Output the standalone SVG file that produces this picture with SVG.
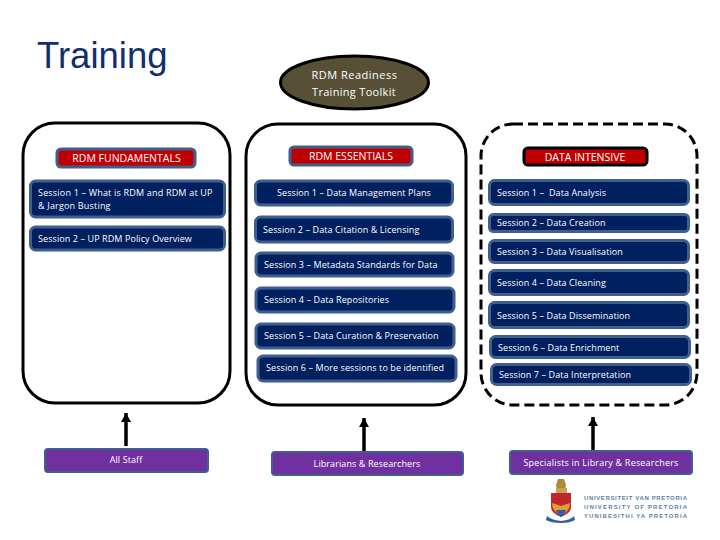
<svg xmlns="http://www.w3.org/2000/svg" width="720" height="540" viewBox="0 0 720 540">
<defs>
<marker id="ah" markerUnits="userSpaceOnUse" markerWidth="10" markerHeight="10" refX="9" refY="5" orient="auto"><path d="M0 0L9 5L0 10z" fill="#000"/></marker>
</defs>
<style>
text{font-family:"Open Sans","Noto Sans","Liberation Sans",sans-serif;font-size:9px;fill:#fff;letter-spacing:.09px}
.m{text-anchor:middle}
.s rect{fill:#002060;stroke:#3f5f8f;stroke-width:3}
.h rect{fill:#c00000;stroke:#3f5f8f;stroke-width:3}
.p rect{fill:#7030a0;stroke:#3f5f8f;stroke-width:2}
.c{fill:#fff;stroke:#000;stroke-width:3}
.hd{font-size:10.5px;letter-spacing:0}
.lg{fill:#5f7fa5;font-size:6px;font-weight:700;letter-spacing:0;font-family:"Liberation Sans",sans-serif}
</style>
<rect width="720" height="540" fill="#fff"/>
<text x="37" y="68" style="font-family:'Liberation Sans',sans-serif;font-size:36.500px;fill:#0f2f70;letter-spacing:0">Training</text>
<g id="containers">
<rect id="box-fundamentals" class="c" x="23" y="123" width="207" height="280" rx="32"/>
<rect id="box-essentials" class="c" x="246" y="124" width="220" height="281" rx="32"/>
<rect id="box-intensive" class="c" x="481" y="124" width="216" height="281" rx="32" stroke-dasharray="10 5"/>
</g>
<g id="toolkit">
<ellipse cx="354.500" cy="82.500" rx="74" ry="26.500" fill="#574f36" stroke="#000" stroke-width="3"/>
<text class="m" x="354.500" y="79" style="font-size:11px;letter-spacing:.5px">RDM Readiness</text>
<text class="m" x="354" y="96" style="font-size:11px;letter-spacing:.3px">Training Toolkit</text>
</g>
<g id="fundamentals-head" class="h"><rect x="57" y="149" width="138" height="18" rx="4"/><text class="m hd" x="126.500" y="162">RDM FUNDAMENTALS</text></g>
<g id="f1" class="s"><rect x="30.500" y="181" width="194" height="36" rx="5"/><text x="38" y="196" style="letter-spacing:.19px">Session 1 – What is RDM and RDM at UP</text><text x="38" y="209" style="letter-spacing:.19px">&amp; Jargon Busting</text></g>
<g id="f2" class="s"><rect x="30.500" y="227" width="194" height="23" rx="5"/><text x="38" y="242">Session 2 – UP RDM Policy Overview</text></g>
<g id="essentials-head" class="h"><rect x="290" y="147" width="122" height="18" rx="4"/><text class="m hd" x="351" y="160">RDM ESSENTIALS</text></g>
<g id="e1" class="s"><rect x="255.500" y="181" width="197" height="24" rx="5"/><text class="m" x="354" y="196">Session 1 – Data Management Plans</text></g>
<g id="e2" class="s"><rect x="255.500" y="217" width="197" height="25" rx="5"/><text x="263" y="233">Session 2 – Data Citation &amp; Licensing</text></g>
<g id="e3" class="s"><rect x="256" y="253" width="197" height="23" rx="5"/><text x="264" y="268">Session 3 – Metadata Standards for Data</text></g>
<g id="e4" class="s"><rect x="256" y="288" width="198" height="24" rx="5"/><text x="264" y="303">Session 4 – Data Repositories</text></g>
<g id="e5" class="s"><rect x="256" y="324" width="198" height="24" rx="5"/><text x="264" y="339">Session 5 – Data Curation &amp; Preservation</text></g>
<g id="e6" class="s"><rect x="258" y="356" width="198" height="25" rx="5"/><text x="266" y="371">Session 6 – More sessions to be identified</text></g>
<g id="intensive-head" class="h"><rect x="524" y="148" width="123" height="17" rx="4" style="stroke:#000"/><text class="m hd" x="585" y="161">DATA INTENSIVE</text></g>
<g id="d1" class="s"><rect x="489.500" y="180.500" width="199" height="24" rx="5"/><text x="497" y="196" xml:space="preserve">Session 1 –  Data Analysis</text></g>
<g id="d2" class="s"><rect x="489.500" y="214.500" width="199" height="17" rx="4"/><text x="497" y="226">Session 2 – Data Creation</text></g>
<g id="d3" class="s"><rect x="489.500" y="240.500" width="199" height="22" rx="5"/><text x="497" y="255">Session 3 – Data Visualisation</text></g>
<g id="d4" class="s"><rect x="489.500" y="270.500" width="199" height="24" rx="5"/><text x="497" y="286">Session 4 – Data Cleaning</text></g>
<g id="d5" class="s"><rect x="489.500" y="302.500" width="199" height="25" rx="5"/><text x="497" y="319">Session 5 – Data Dissemination</text></g>
<g id="d6" class="s"><rect x="490.500" y="336.500" width="199" height="21" rx="5"/><text x="498" y="351">Session 6 – Data Enrichment</text></g>
<g id="d7" class="s"><rect x="491.500" y="364.500" width="199" height="20" rx="5"/><text x="499" y="378">Session 7 – Data Interpretation</text></g>
<g id="connectors" fill="none" stroke="#000" stroke-width="3.500">
<path d="M126 446V413" marker-end="url(#ah)"/>
<path d="M364 451V418" marker-end="url(#ah)"/>
<path d="M593 450V417" marker-end="url(#ah)"/>
</g>
<g id="a1" class="p"><rect x="45" y="449" width="163" height="23" rx="3"/><text class="m" x="126" y="463">All Staff</text></g>
<g id="a2" class="p"><rect x="272" y="452" width="191" height="23" rx="3"/><text class="m" x="367" y="467">Librarians &amp; Researchers</text></g>
<g id="a3" class="p"><rect x="510" y="451" width="182" height="23" rx="3"/><text class="m" x="601" y="466" style="letter-spacing:.2px">Specialists in Library &amp; Researchers</text></g>
<g id="crest">
<path d="M558 479h6l2 6l-1 5h-8l-1-5z" fill="#b08a3a"/>
<path d="M556 488h11v6h-11z" fill="#c9a24f"/>
<path d="M551 493h20v14q0 6-10 10q-10-4-10-10z" fill="#c0272d"/>
<path d="M552 503l9 3l9-3q0 8-9 13q-9-5-9-13z" fill="#e0a030"/>
<path d="M556 510h10q-1 5-5 7q-4-2-5-7z" fill="#2f5f9f"/>
<path d="M547 516q4 4 14 5q10-1 13-5l1 4q-5 3-14 3q-10 0-15-3z" fill="#2f5f9f"/>
</g>
<g id="logo-text">
<text class="lg" x="584" y="500" textLength="103">UNIVERSITEIT VAN PRETORIA</text>
<text class="lg" x="584" y="509" textLength="103">UNIVERSITY OF PRETORIA</text>
<text class="lg" x="584" y="518" textLength="103">YUNIBESITHI YA PRETORIA</text>
</g>
</svg>
